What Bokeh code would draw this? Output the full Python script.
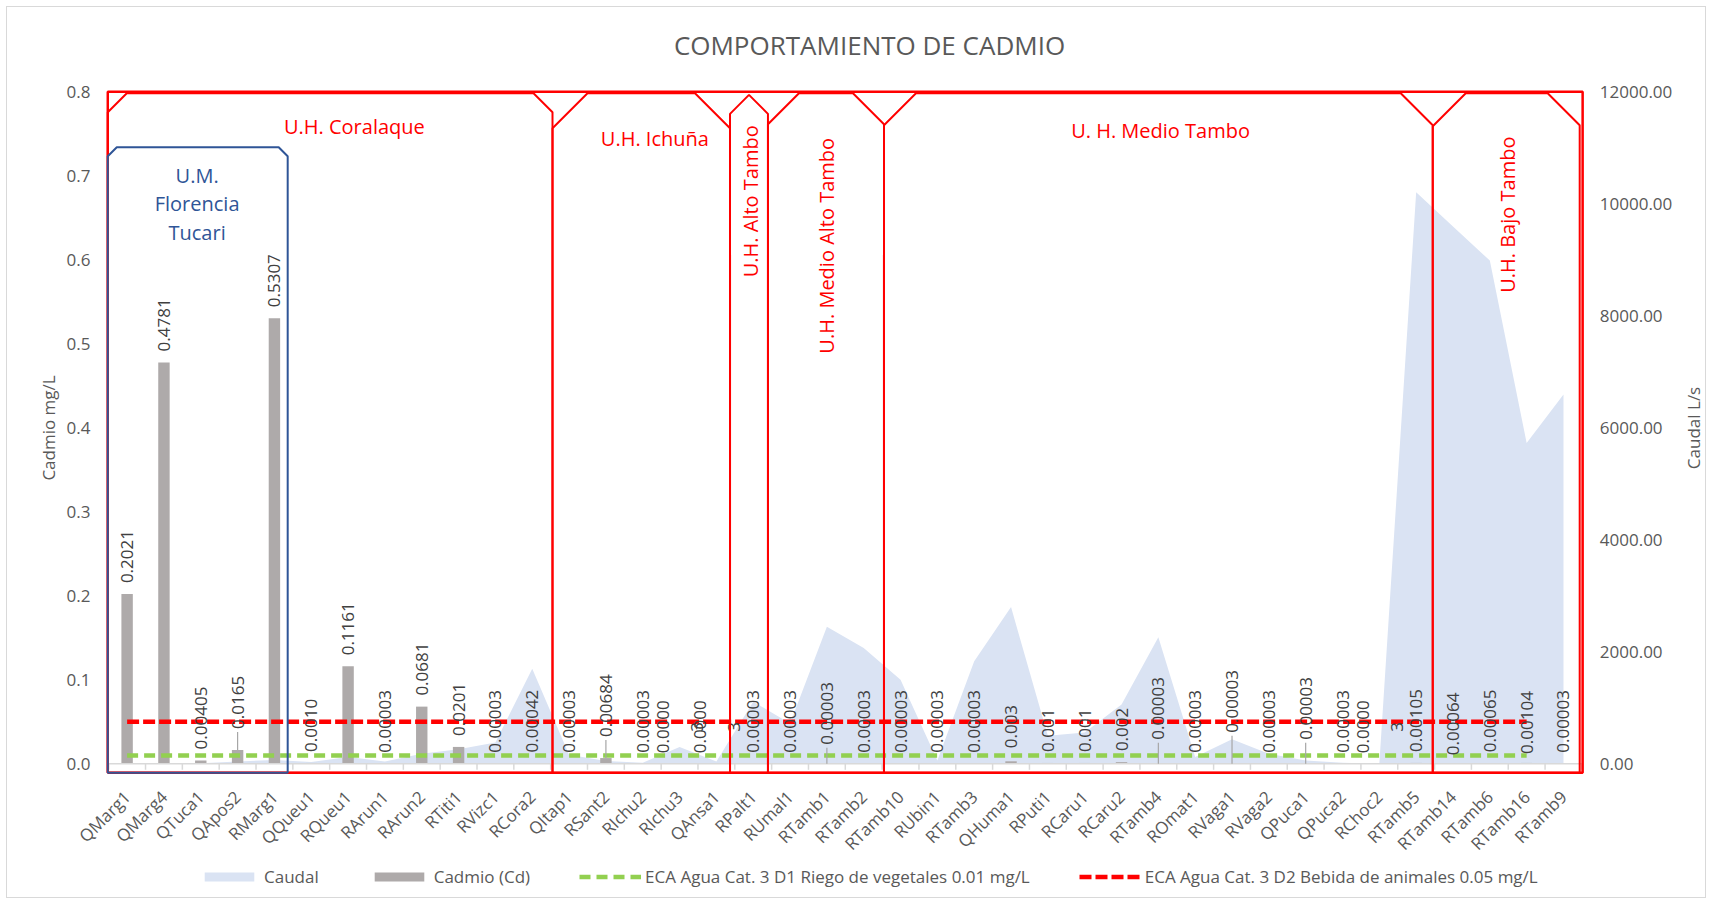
import math
from bokeh.plotting import figure
from bokeh.models import Range1d, Legend, LegendItem, Label
from bokeh.core.properties import value
from bokeh.embed import file_html
from bokeh.resources import INLINE

# ---------------- data ----------------
categories = ["QMarg1", "QMarg4", "QTuca1", "QApos2", "RMarg1", "QQueu1", "RQueu1",
              "RArun1", "RArun2", "RTiti1", "RVizc1", "RCora2", "QItap1", "RSant2",
              "RIchu2", "RIchu3", "QAnsa1", "RPalt1", "RUmal1", "RTamb1", "RTamb2",
              "RTamb10", "RUbin1", "RTamb3", "QHuma1", "RPuti1", "RCaru1", "RCaru2",
              "RTamb4", "ROmat1", "RVaga1", "RVaga2", "QPuca1", "QPuca2", "RChoc2",
              "RTamb5", "RTamb14", "RTamb6", "RTamb16", "RTamb9"]

caudal = [0, 0, 10, 40, 70, 30, 120, 40, 180, 260, 380, 1700, 160, 50, 20, 300, 40,
          1110, 720, 2450, 2070, 1500, 60, 1830, 2800, 500, 560, 1060, 2260, 120, 440,
          180, 60, 20, 0, 10210, 9600, 8990, 5730, 6600]

cadmio = [0.2021, 0.4781, 0.00405, 0.0165, 0.5307, 0.0010, 0.1161, 0.00003, 0.0681,
          0.0201, 0.00003, 0.00042, 0.00003, 0.00684, 0.00003, 0.00003, 0.00003,
          0.00003, 0.00003, 0.00003, 0.00003, 0.00003, 0.00003, 0.00003, 0.003, 0.001,
          0.001, 0.002, 0.00003, 0.00003, 0.00003, 0.00003, 0.00003, 0.00003, 0.00003,
          0.00105, 0.00064, 0.00065, 0.00104, 0.00003]

cadmio_labels = ["0.2021", "0.4781", "0.00405", "0.0165", "0.5307", "0.0010", "0.1161",
                 "0.00003", "0.0681", "0.0201", "0.00003", "0.00042", "0.00003",
                 "0.00684", "0.00003", "0.0000\n3", "0.0000\n3", "0.00003", "0.00003",
                 "0.00003", "0.00003", "0.00003", "0.00003", "0.00003", "0.003", "0.001",
                 "0.001", "0.002", "0.00003", "0.00003", "0.00003", "0.00003", "0.00003",
                 "0.00003", "0.0000\n3", "0.00105", "0.00064", "0.00065", "0.00104",
                 "0.00003"]

eca_count = 39                      # ECA lines run from QMarg1 to RTamb16
eca_d1_level = 0.01
eca_d2_level = 0.05

left_ticks = [0.0, 0.1, 0.2, 0.3, 0.4, 0.5, 0.6, 0.7, 0.8]
right_ticks = [0, 2000, 4000, 6000, 8000, 10000, 12000]

title_text = "COMPORTAMIENTO DE CADMIO"
left_label = "Cadmio mg/L"
right_label = "Caudal L/s"
groups_red = ["U.H. Coralaque", "U.H. Ichuña", "U.H. Alto Tambo",
              "U.H. Medio Alto Tambo", "U. H. Medio Tambo", "U.H. Bajo Tambo"]
group_blue = ["U.M.", "Florencia", "Tucari"]

# ---------------- layout constants (plot frame covers the whole canvas) ----------
W, H = 1698, 890
PXX = 36.83            # px per category
PXY = 839.6            # px per mg/L
CAT0 = 101.2           # px from left edge to the start of the first category
ZERO = 756.3           # px from top edge to the zero line
X0 = -CAT0 / PXX
X1 = X0 + W / PXX
Y1 = ZERO / PXY
Y0 = -(H - ZERO) / PXY
CAU = 15000.0          # 0.8 mg/L <-> 12000 L/s
N = len(categories)
xc = [i + 0.5 for i in range(N)]     # category centres on the category scale

def px_x(px):
    return (px - CAT0) / PXX

def px_y(px):
    return (ZERO - px) / PXY

FONT = value("Open Sans")
GRAY = "#595959"
RED = "#FF0000"
BLUE = "#2F5597"

p = figure(width=W, height=H, x_range=Range1d(X0, X1), y_range=Range1d(Y0, Y1),
           x_axis_location=None, y_axis_location=None,
           output_backend="svg", toolbar_location=None,
           min_border_left=0, min_border_right=0, min_border_top=0,
           min_border_bottom=0)
p.margin = (7, 0, 0, 7)
p.extra_y_ranges = {"caudal": Range1d(Y0 * CAU, Y1 * CAU)}
p.outline_line_color = None
p.grid.visible = False
p.styles = {"outline": "1px solid #D9D9D9"}

# ---------------- series ----------------
area = p.varea(x=xc, y1=0, y2=caudal, y_range_name="caudal", fill_color="#DAE3F3")
bars = p.vbar(x=xc, top=cadmio, bottom=0, width=0.31,
              fill_color="#AEAAAA", line_color=None)

# category axis: line at zero, ticks between categories, rotated labels
p.segment(x0=[0], y0=[0], x1=[N], y1=[0], line_color="#D9D9D9", line_width=1.5)
bounds = list(range(N + 1))
p.segment(x0=bounds, y0=[0] * len(bounds), x1=bounds,
          y1=[-6 / PXY] * len(bounds), line_color="#D9D9D9", line_width=1.5)
p.text(x=xc, y=[-30 / PXY] * N, text=categories, angle=math.pi / 4,
       text_align="right", text_baseline="middle", text_font=FONT,
       text_font_size="17px", text_color=GRAY)

# left value axis (mg/L)
p.text(x=[px_x(83)] * len(left_ticks), y=left_ticks,
       text=["%.1f" % t for t in left_ticks], text_align="right",
       text_baseline="middle", text_font=FONT, text_font_size="17px", text_color=GRAY)
p.text(x=[px_x(41)], y=[0.4], text=[left_label], angle=math.pi / 2,
       text_align="center", text_baseline="middle", text_font=FONT,
       text_font_size="17px", text_color=GRAY)

# right value axis (L/s)
p.text(x=[px_x(1592.3)] * len(right_ticks), y=right_ticks, y_range_name="caudal",
       text=["%.2f" % t for t in right_ticks], text_align="left",
       text_baseline="middle", text_font=FONT, text_font_size="17px", text_color=GRAY)
p.text(x=[px_x(1685.6)], y=[6000], y_range_name="caudal", text=[right_label],
       angle=math.pi / 2, text_align="center", text_baseline="middle",
       text_font=FONT, text_font_size="17px", text_color=GRAY)

# title
p.text(x=[px_x(862)], y=[px_y(37)], text=[title_text], text_align="center",
       text_baseline="middle", text_font=FONT, text_font_size="26px",
       text_color=GRAY)

green = p.line(x=xc[:eca_count], y=[eca_d1_level] * eca_count,
               line_color="#92D050", line_width=4.5, line_dash="11 6")
red = p.line(x=xc[:eca_count], y=[eca_d2_level] * eca_count,
             line_color=RED, line_width=4.5, line_dash="12 4")

# ---------------- data labels ----------------
label_lift = {"QApos2": 10, "RSant2": 10, "RTamb1": 8, "QHuma1": 2, "RTamb4": 13,
              "RVaga1": 20, "QPuca1": 13, "RTamb14": -3, "RTamb16": -2}
GAP = 11
sx, sy, st, mx, my, mt = [], [], [], [], [], []
lx0, ly0, ly1 = [], [], []
for c, x, v, t in zip(categories, xc, cadmio, cadmio_labels):
    lift = label_lift.get(c, 0)
    if "\n" in t:
        mx.append(x); my.append(v + (GAP + 26 + lift) / PXY); mt.append(t)
    else:
        sx.append(x); sy.append(v + (GAP + lift) / PXY); st.append(t)
    if lift >= 8:
        lx0.append(x); ly0.append(v); ly1.append(v + (GAP + lift - 3) / PXY)

p.segment(x0=lx0, y0=ly0, x1=lx0, y1=ly1, line_color="#A6A6A6", line_width=1.2)
p.text(x=sx, y=sy, text=st, angle=math.pi / 2, text_align="left",
       text_baseline="middle", text_font=FONT, text_font_size="17px",
       text_color="#404040")
p.text(x=mx, y=my, text=mt, angle=math.pi / 2, text_align="center",
       text_baseline="middle", text_font=FONT, text_font_size="17px",
       text_color="#404040", text_line_height=1.5)

# ---------------- region boxes ----------------
def snip_box(left, right, top, bottom, sl, sr):
    xs = [left, left, left + sl / PXX, right - sr / PXX, right, right, left]
    ys = [bottom, top - sl / PXY, top, top, top - sr / PXY, bottom, bottom]
    return xs, ys

BOT = -0.0107
TOP = 0.7987
edges = [-0.025, 12.05, 16.87, 17.9, 21.05, 35.95, 39.94]
snips = [(19, 19), (35, 35), (19, 19), (31, 31), (32, 32), (33, 32)]
bxs, bys = [], []
for i, (sl, sr) in enumerate(snips):
    left, right = edges[i], edges[i + 1]
    top = TOP
    if i == 2:
        half = (right - left) * PXX / 2
        sl = sr = half
        top = TOP - 0.002
    xs, ys = snip_box(left, right, top, BOT, sl, sr)
    bxs.append(xs); bys.append(ys)
p.patches(xs=bxs, ys=bys, fill_color=None, line_color=RED, line_width=2)
# outer frame
p.line(x=[-0.025, -0.025, 40.02, 40.02, -0.025], y=[BOT, 0.8003, 0.8003, BOT, BOT],
       line_color=RED, line_width=2.5)
# blue box
bx, by = snip_box(-0.025, 4.86, 0.7344, BOT, 9, 9)
p.patch(x=bx, y=by, fill_color=None, line_color=BLUE, line_width=2)

# region texts
red_pos = [(6.67, 0.759, 0), (14.83, 0.7444, 0), (17.43, 0.670, 1),
           (19.48, 0.617, 1), (28.56, 0.7546, 0), (37.99, 0.654, 1)]
for txt, (x, y, rot) in zip(groups_red, red_pos):
    p.add_layout(Label(x=x, y=y, text=txt, text_align="center", text_baseline="middle",
                       angle=(math.pi / 2 if rot else 0), text_font="Open Sans",
                       text_font_size="20px", text_color=RED))
for k, txt in enumerate(group_blue):
    p.add_layout(Label(x=2.40, y=0.667 + (1 - k) * 28.3 / PXY, text=txt,
                       text_align="center", text_baseline="middle",
                       text_font="Open Sans", text_font_size="20px", text_color=BLUE))

# ---------------- legend ----------------
legend = Legend(items=[LegendItem(label="Caudal", renderers=[area]),
                       LegendItem(label="Cadmio (Cd)", renderers=[bars]),
                       LegendItem(label="ECA Agua Cat. 3 D1 Riego de vegetales 0.01 mg/L",
                                  renderers=[green]),
                       LegendItem(label="ECA Agua Cat. 3 D2 Bebida de animales 0.05 mg/L",
                                  renderers=[red])],
                orientation="horizontal", location=(191, 9),
                glyph_width=62, glyph_height=11, label_standoff=4, spacing=49,
                padding=5, margin=0, label_height=20,
                label_text_font="Open Sans", label_text_font_size="17px",
                label_text_color=GRAY, border_line_color=None,
                background_fill_alpha=0)
p.add_layout(legend)

open("out.html", "w").write(file_html(p, INLINE))
